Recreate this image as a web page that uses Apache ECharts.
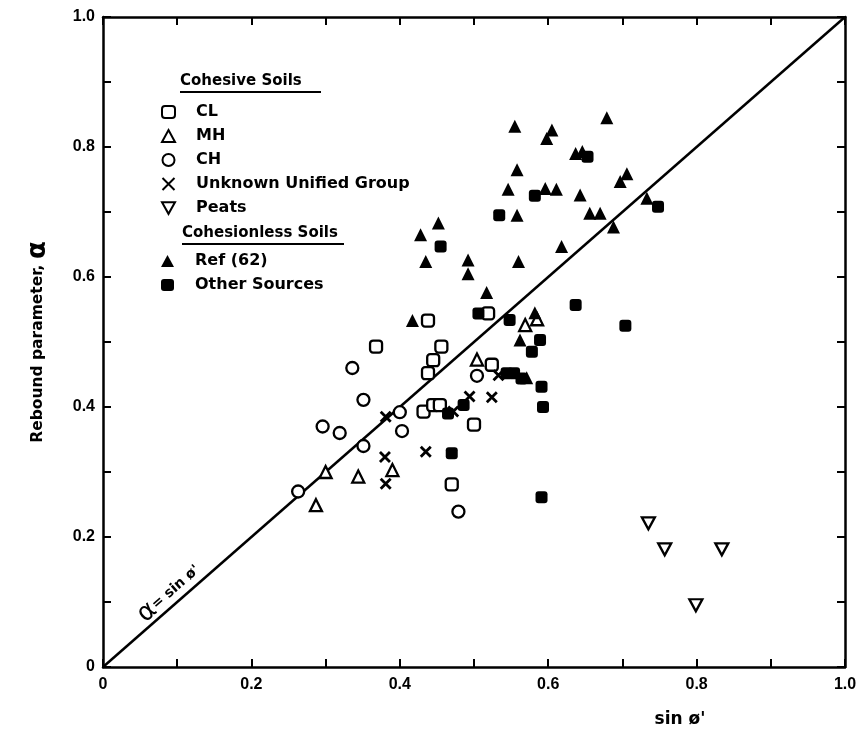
<!DOCTYPE html>
<html><head><meta charset="utf-8">
<script src="https://cdn.jsdelivr.net/npm/echarts@6/dist/echarts.min.js"></script>
<style>html,body{margin:0;padding:0;background:#fff}#c{width:862px;height:734px}</style>
</head><body><div id="c"></div>
<script>
// ---- data ----
const tickLabels = ['0', '0.2', '0.4', '0.6', '0.8', '1.0'];
const xName = "sin ø'";
const yName = 'Rebound parameter, ';
const lineX = [0, 1];
const lineY = [0, 1];
const cl = [[0.368,0.493],[0.438,0.533],[0.456,0.493],[0.445,0.472],[0.438,0.452],[0.432,0.393],[0.445,0.403],[0.454,0.403],[0.500,0.373],[0.524,0.465],[0.470,0.281],[0.519,0.544]];
const mh = [[0.287,0.249],[0.300,0.300],[0.344,0.293],[0.390,0.303],[0.504,0.473],[0.569,0.526],[0.585,0.535]];
const ch = [[0.263,0.270],[0.296,0.370],[0.319,0.360],[0.336,0.460],[0.351,0.411],[0.351,0.340],[0.400,0.392],[0.403,0.363],[0.479,0.239],[0.504,0.448]];
const unknown = [[0.381,0.385],[0.380,0.323],[0.381,0.282],[0.435,0.331],[0.472,0.393],[0.494,0.416],[0.524,0.415],[0.533,0.449]];
const peats = [[0.735,0.221],[0.757,0.181],[0.834,0.181],[0.799,0.095]];
const ref62 = [[0.417,0.533],[0.428,0.665],[0.435,0.624],[0.452,0.683],[0.492,0.626],[0.492,0.605],[0.517,0.576],[0.546,0.735],[0.555,0.832],[0.558,0.765],[0.558,0.695],[0.560,0.624],[0.562,0.503],[0.571,0.445],[0.582,0.545],[0.596,0.736],[0.598,0.813],[0.605,0.826],[0.611,0.735],[0.618,0.647],[0.637,0.790],[0.646,0.793],[0.643,0.726],[0.656,0.698],[0.670,0.698],[0.679,0.845],[0.688,0.677],[0.697,0.747],[0.706,0.759],[0.733,0.721]];
const other = [[0.455,0.647],[0.465,0.390],[0.470,0.329],[0.486,0.403],[0.506,0.544],[0.534,0.695],[0.544,0.452],[0.554,0.452],[0.548,0.534],[0.564,0.444],[0.578,0.485],[0.582,0.725],[0.589,0.503],[0.591,0.431],[0.593,0.400],[0.591,0.261],[0.637,0.557],[0.653,0.785],[0.704,0.525],[0.748,0.708]];
const cohesiveNames = ['CL', 'MH', 'CH', 'Unknown Unified Group', 'Peats'];
const cohesionlessNames = ['Ref (62)', 'Other Sources'];

// ---- chart ----
const chart = echarts.init(document.getElementById('c'), null, {renderer: 'canvas'});
const K = '#000';
const FONT = '"DejaVu Sans", sans-serif';
const fmt = v => { const i = Math.round(v * 10); return i % 2 === 0 ? tickLabels[i / 2] : ''; };
const axisCommon = {
  type: 'value', min: 0, max: 1, interval: 0.1,
  axisLine: {show: true, onZero: false, lineStyle: {color: K, width: 2.5}},
  axisTick: {show: true, inside: true, length: 8, lineStyle: {color: K, width: 2}},
  splitLine: {show: false}
};
const openStyle = {color: '#fff', borderColor: K, borderWidth: 2.3, opacity: 1};
const solidStyle = {color: K, opacity: 1};
const X_PATH = 'path://M1,1L9,9M9,1L1,9';
const INV_TRI = 'path://M0,0L10,0L5,9Z';

const legendText = {color: K, fontFamily: FONT, fontWeight: 'bold', fontSize: 16, padding: [0, 0, 0, 16]};
const option = {
  animation: false,
  backgroundColor: '#fff',
  grid: {left: 103, right: 17, top: 17, bottom: 67},
  xAxis: [
    Object.assign({}, axisCommon, {
      position: 'bottom',
      axisLabel: {formatter: fmt, color: K, fontFamily: '"Liberation Sans", sans-serif', fontWeight: 'bold', fontSize: 16, margin: 10},
      name: xName, nameLocation: 'middle', nameGap: 44,
      nameTextStyle: {color: K, fontFamily: FONT, fontWeight: 'bold', fontSize: 17, padding: [0, 0, 0, 412]}
    }),
    Object.assign({}, axisCommon, {position: 'top', axisLabel: {show: false}})
  ],
  yAxis: [
    Object.assign({}, axisCommon, {
      position: 'left',
      axisLabel: {formatter: fmt, color: K, fontFamily: '"Liberation Sans", sans-serif', fontWeight: 'bold', fontSize: 16, margin: 8},
      name: yName + '{a|α}', nameLocation: 'middle', nameGap: 52, nameRotate: 90,
      nameTextStyle: {color: K, fontFamily: FONT, fontWeight: 'bold', fontSize: 15.5, rich: {a: {fontSize: 26, fontFamily: FONT, color: K}}}
    }),
    Object.assign({}, axisCommon, {position: 'right', axisLabel: {show: false}})
  ],
  legend: [
    {data: cohesiveNames.map(n => n === 'Peats' ? {name: n, icon: INV_TRI} : n),
     orient: 'vertical', left: 156, top: 99, itemWidth: 13, itemHeight: 12, itemGap: 8,
     textStyle: legendText, selectedMode: false},
    {data: cohesionlessNames, orient: 'vertical', left: 156, top: 248, itemWidth: 13, itemHeight: 12, itemGap: 8,
     textStyle: legendText, selectedMode: false}
  ],
  series: [
    {name: 'diag', type: 'line', data: lineX.map((x, i) => [x, lineY[i]]), showSymbol: false, silent: true,
     lineStyle: {color: K, width: 2.5}, z: 1},
    {name: 'CL', type: 'scatter', data: cl, symbol: 'roundRect', symbolSize: 12, itemStyle: openStyle, z: 3},
    {name: 'MH', type: 'scatter', data: mh, symbol: 'triangle', symbolSize: 12, itemStyle: openStyle, z: 3},
    {name: 'CH', type: 'scatter', data: ch, symbol: 'circle', symbolSize: 12, itemStyle: openStyle, z: 3},
    {name: 'Unknown Unified Group', type: 'scatter', data: unknown, symbol: X_PATH, symbolSize: 10,
     itemStyle: {color: K, borderColor: K, borderWidth: 2.8, opacity: 1}, z: 3},
    {name: 'Peats', type: 'scatter', data: peats, symbol: INV_TRI, symbolSize: [13, 12], itemStyle: openStyle, z: 3},
    {name: 'Ref (62)', type: 'scatter', data: ref62, symbol: 'triangle', symbolSize: 13, itemStyle: solidStyle, z: 3},
    {name: 'Other Sources', type: 'scatter', data: other, symbol: 'roundRect', symbolSize: 12, itemStyle: solidStyle, z: 3}
  ]
};
chart.setOption(option);

// headers & line label
const p0 = chart.convertToPixel({gridIndex: 0}, [0, 0]);
const p1 = chart.convertToPixel({gridIndex: 0}, [1, 1]);
const theta = Math.atan2(p0[1] - p1[1], p1[0] - p0[0]);
const pm = chart.convertToPixel({gridIndex: 0}, [0.1, 0.1]);
const off = 12;
const lx = pm[0] - Math.sin(theta) * off, ly = pm[1] - Math.cos(theta) * off;
const hdrStyle = {fill: K, font: 'bold 15px ' + FONT};
chart.setOption({
  graphic: [
    {type: 'text', left: 180, top: 74, style: Object.assign({text: 'Cohesive Soils'}, hdrStyle)},
    {type: 'line', shape: {x1: 180, y1: 92, x2: 321, y2: 92}, style: {stroke: K, lineWidth: 2}},
    {type: 'text', left: 182, top: 226, style: Object.assign({text: 'Cohesionless Soils'}, hdrStyle)},
    {type: 'line', shape: {x1: 182, y1: 244, x2: 344, y2: 244}, style: {stroke: K, lineWidth: 2}},
    {type: 'text', x: lx, y: ly, rotation: theta,
     style: {text: "{a|α}{b|= sin ø'}", align: 'center', verticalAlign: 'middle',
       rich: {a: {fontSize: 26, fontFamily: FONT, fill: K, color: K}, b: {fontSize: 14, fontFamily: FONT, fontWeight: 'bold', fill: K, color: K}}}}
  ]
});
</script></body></html>
